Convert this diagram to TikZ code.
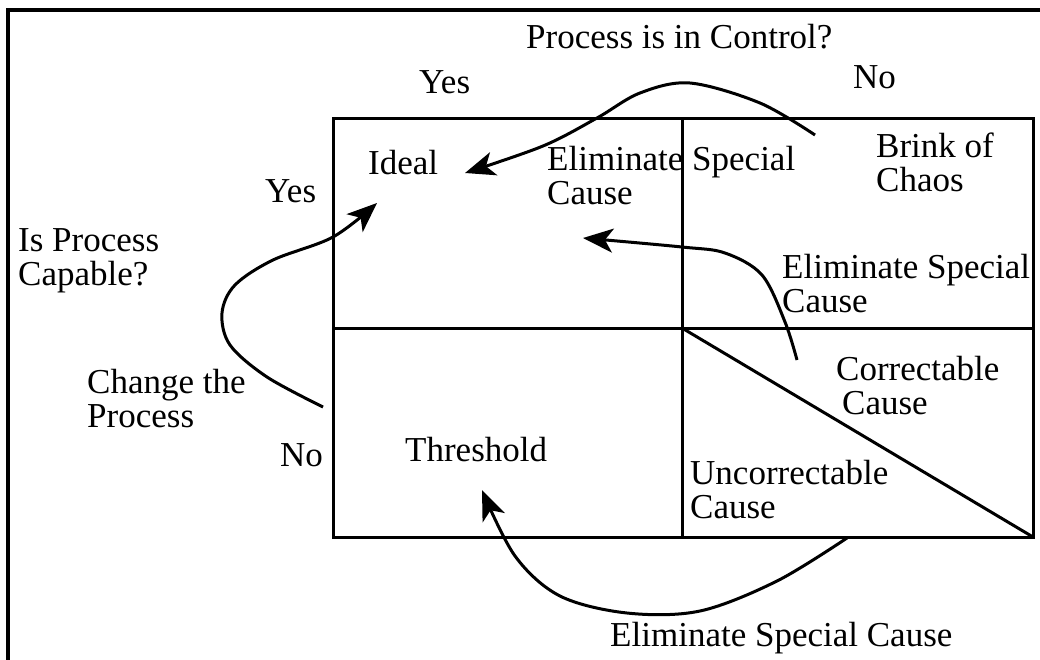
\documentclass[tikz,border=0pt]{standalone}
\usepackage{fontspec}
\setmainfont{Liberation Serif}
\usetikzlibrary{arrows.meta}
\begin{document}
\begin{tikzpicture}[x=1pt,y=-1pt,
  lbl/.style={anchor=base west, inner sep=0pt, align=left,
    font=\fontsize{35}{34}\selectfont},
  frame/.style={line width=3.5pt},
  grid/.style={line width=3pt},
  arr/.style={line width=3pt, line join=round,
    -{Stealth[length=30pt,width=24pt,inset=8pt]}}]
\useasboundingbox (0,0) rectangle (1040,659);

% page frame (top and left edges)
\draw[frame] (8,670) -- (8,10) -- (1050,10);

% two-by-two grid with the split lower-right cell
\draw[grid] (333,118) rectangle (1033,537);
\draw[grid] (682,118) -- (682,537);
\draw[grid] (333,328) -- (1033,328);
\draw[grid] (682,328) -- (1033,537);

% axis questions and answers (multi-line labels sit on their last baseline)
\node[lbl] (ctl)  at (526,48)  {Process is in Control?};
\node[lbl] (yesT) at (419,93)  {Yes};
\node[lbl] (noT)  at (853,88)  {No};
\node[lbl] (yesL) at (265,202) {Yes};
\node[lbl] (noL)  at (280,466) {No};
\node[lbl] (cap)  at (18,285)  {Is Process\\Capable?};

% cell labels
\node[lbl] (ideal)  at (368,174) {Ideal};
\node[lbl] (brink)  at (876,191) {Brink of\\Chaos};
\node[lbl] (thresh) at (405,461) {Threshold};
\node[lbl] (corr)   at (836,414) {Correctable\\\hspace*{6pt}Cause};
\node[lbl] (uncorr) at (690,518) {Uncorrectable\\Cause};

% arrow labels
\node[lbl] (elimA) at (547,204) {Eliminate\\Cause};
\node[lbl] (elimB) at (692,170) {Special};
\node[lbl] (elimR) at (782,312) {Eliminate Special\\Cause};
\node[lbl] (chg)   at (87,427)  {Change the\\Process};
\node[lbl] (elimD) at (610,646) {Eliminate Special Cause};

% arrow end points
\coordinate (brinkS)  at (815,135);
\coordinate (idealT1) at (465,173);
\coordinate (corrS)   at (797,360);
\coordinate (idealT2) at (583,238);
\coordinate (threshS) at (323,407);
\coordinate (idealT3) at (377,203);
\coordinate (uncorrS) at (847,538);
\coordinate (threshT) at (482,490);

% moves between the regions
\draw[arr] plot[smooth, tension=0.55] coordinates
  {(brinkS) (760,103) (690,83) (640,93) (597,118) (543,146) (idealT1)};
\draw[arr] plot[smooth, tension=0.55] coordinates
  {(corrS) (785,322) (762,275) (725,253) (682,247) (idealT2)};
\draw[arr] plot[smooth, tension=0.55] coordinates
  {(threshS) (267,377) (230,345) (222,313) (235,285) (273,260) (333,237) (idealT3)};
\draw[arr] plot[smooth, tension=0.55] coordinates
  {(uncorrS) (777,581) (700,611) (627,613) (560,596) (515,556) (threshT)};
\end{tikzpicture}
\end{document}
